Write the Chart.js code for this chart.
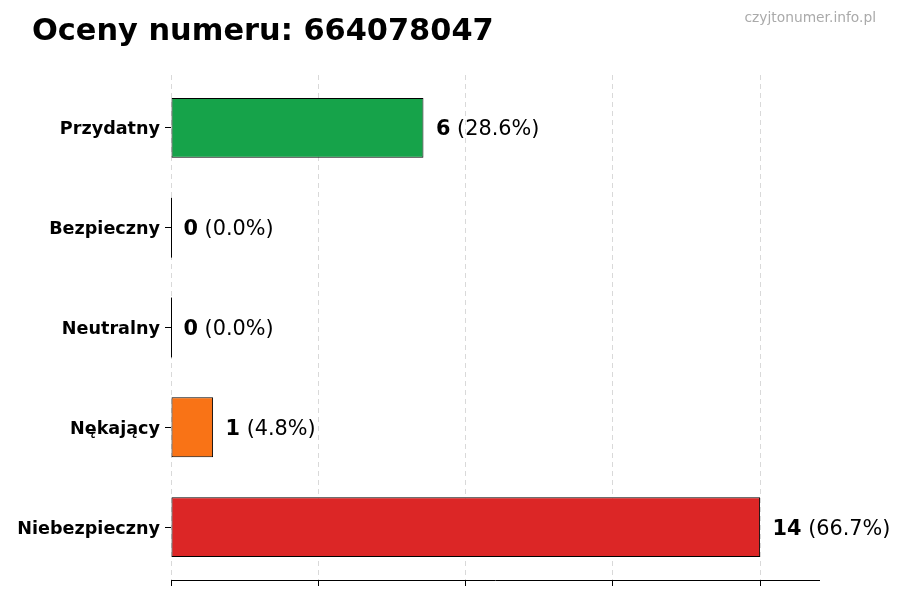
<!DOCTYPE html>
<html>
<head>
<meta charset="utf-8">
<script src="https://cdn.jsdelivr.net/npm/chart.js@4.4.1/dist/chart.umd.min.js"></script>
<style>
  html, body { margin: 0; padding: 0; background: #fff; }
  #chart { display: block; }
</style>
</head>
<body>
<canvas id="chart" width="900" height="600"></canvas>
<script>
// ── Data ──────────────────────────────────────────────────────────────────────
const categories = ['Przydatny', 'Bezpieczny', 'Neutralny', 'Nękający', 'Niebezpieczny'];
const counts     = [6, 0, 0, 1, 14];
const percents   = ['28.6', '0.0', '0.0', '4.8', '66.7'];
const barColors  = ['#16a34a', '#2563eb', '#9ca3af', '#f97316', '#dc2626'];
const xTicks     = [0, 3.5, 7, 10.5, 14];
const xMax       = 15.4;

const titleText = 'Oceny numeru: 664078047';
const siteText  = 'czyjtonumer.info.pl';
const FONT = "'DejaVu Sans', Verdana, sans-serif";

// ── Plugins ───────────────────────────────────────────────────────────────────
const zeroBars = {
  id: 'zeroBars',
  afterDatasetsDraw(chart) {
    const { ctx } = chart;
    chart.getDatasetMeta(0).data.forEach((bar, i) => {
      if (counts[i] !== 0) return;
      const { x, y, height } = bar.getProps(['x', 'y', 'height'], true);
      ctx.save();
      ctx.strokeStyle = '#000';
      ctx.lineWidth = 1;
      ctx.beginPath();
      ctx.moveTo(Math.round(x) + 0.5, y - height / 2);
      ctx.lineTo(Math.round(x) + 0.5, y + height / 2);
      ctx.stroke();
      ctx.restore();
    });
  }
};

const valueLabels = {
  id: 'valueLabels',
  afterDatasetsDraw(chart) {
    const { ctx } = chart;
    chart.getDatasetMeta(0).data.forEach((bar, i) => {
      const { x, y } = bar.getProps(['x', 'y'], true);
      let tx = x + 12.5;
      const ty = y + 2;
      ctx.save();
      ctx.fillStyle = '#000';
      ctx.textBaseline = 'middle';
      ctx.textAlign = 'left';
      ctx.font = `bold 20.8px ${FONT}`;
      const v = String(counts[i]);
      ctx.fillText(v, tx, ty);
      tx += ctx.measureText(v).width;
      ctx.font = `20.8px ${FONT}`;
      ctx.fillText(` (${percents[i]}%)`, tx, ty);
      ctx.restore();
    });
  }
};

const headings = {
  id: 'headings',
  afterDraw(chart) {
    const { ctx } = chart;
    ctx.save();
    ctx.fillStyle = '#000';
    ctx.textBaseline = 'alphabetic';
    ctx.textAlign = 'left';
    ctx.font = `bold 30.4px ${FONT}`;
    ctx.fillText(titleText, 32, 40);
    ctx.fillStyle = '#aaaaaa';
    ctx.textAlign = 'right';
    ctx.font = `13.8px ${FONT}`;
    ctx.fillText(siteText, 876, 22);
    ctx.restore();
  }
};

// ── Chart ─────────────────────────────────────────────────────────────────────
new Chart(document.getElementById('chart'), {
  type: 'bar',
  data: {
    labels: categories,
    datasets: [{
      data: counts,
      backgroundColor: barColors,
      borderColor: '#000',
      borderWidth: 1,
      borderSkipped: false,
      barPercentage: 0.6,
      categoryPercentage: 1
    }]
  },
  options: {
    indexAxis: 'y',
    responsive: false,
    devicePixelRatio: 1,
    animation: false,
    layout: { padding: { top: 75, right: 81, bottom: 0, left: 0 } },
    plugins: {
      legend: { display: false },
      tooltip: { enabled: false }
    },
    scales: {
      x: {
        min: 0, max: xMax,
        afterBuildTicks: s => { s.ticks = xTicks.map(v => ({ value: v })); },
        afterFit: s => { s.height = 20; },
        ticks: { display: false },
        grid: {
          color: 'rgba(0,0,0,0.15)', lineWidth: 1,
          drawTicks: true, tickLength: 6, tickColor: '#000', tickWidth: 1
        },
        border: { display: true, color: '#000', width: 1, dash: [5, 4] }
      },
      y: {
        // matplotlib-like margin: bars ±0.3 around each category plus 5%
        afterBuildTicks: s => { s._startValue = -0.53; s._valueRange = categories.length + 0.06; },
        afterFit: s => { s.width = 171; },
        ticks: { color: '#000', padding: 5, labelOffset: 2, font: { family: FONT, size: 17.6, weight: 'bold' } },
        grid: { offset: false, drawOnChartArea: false, drawTicks: true, tickLength: 6, tickColor: '#000' },
        border: { display: false }
      }
    }
  },
  plugins: [zeroBars, valueLabels, headings]
});
</script>
</body>
</html>
